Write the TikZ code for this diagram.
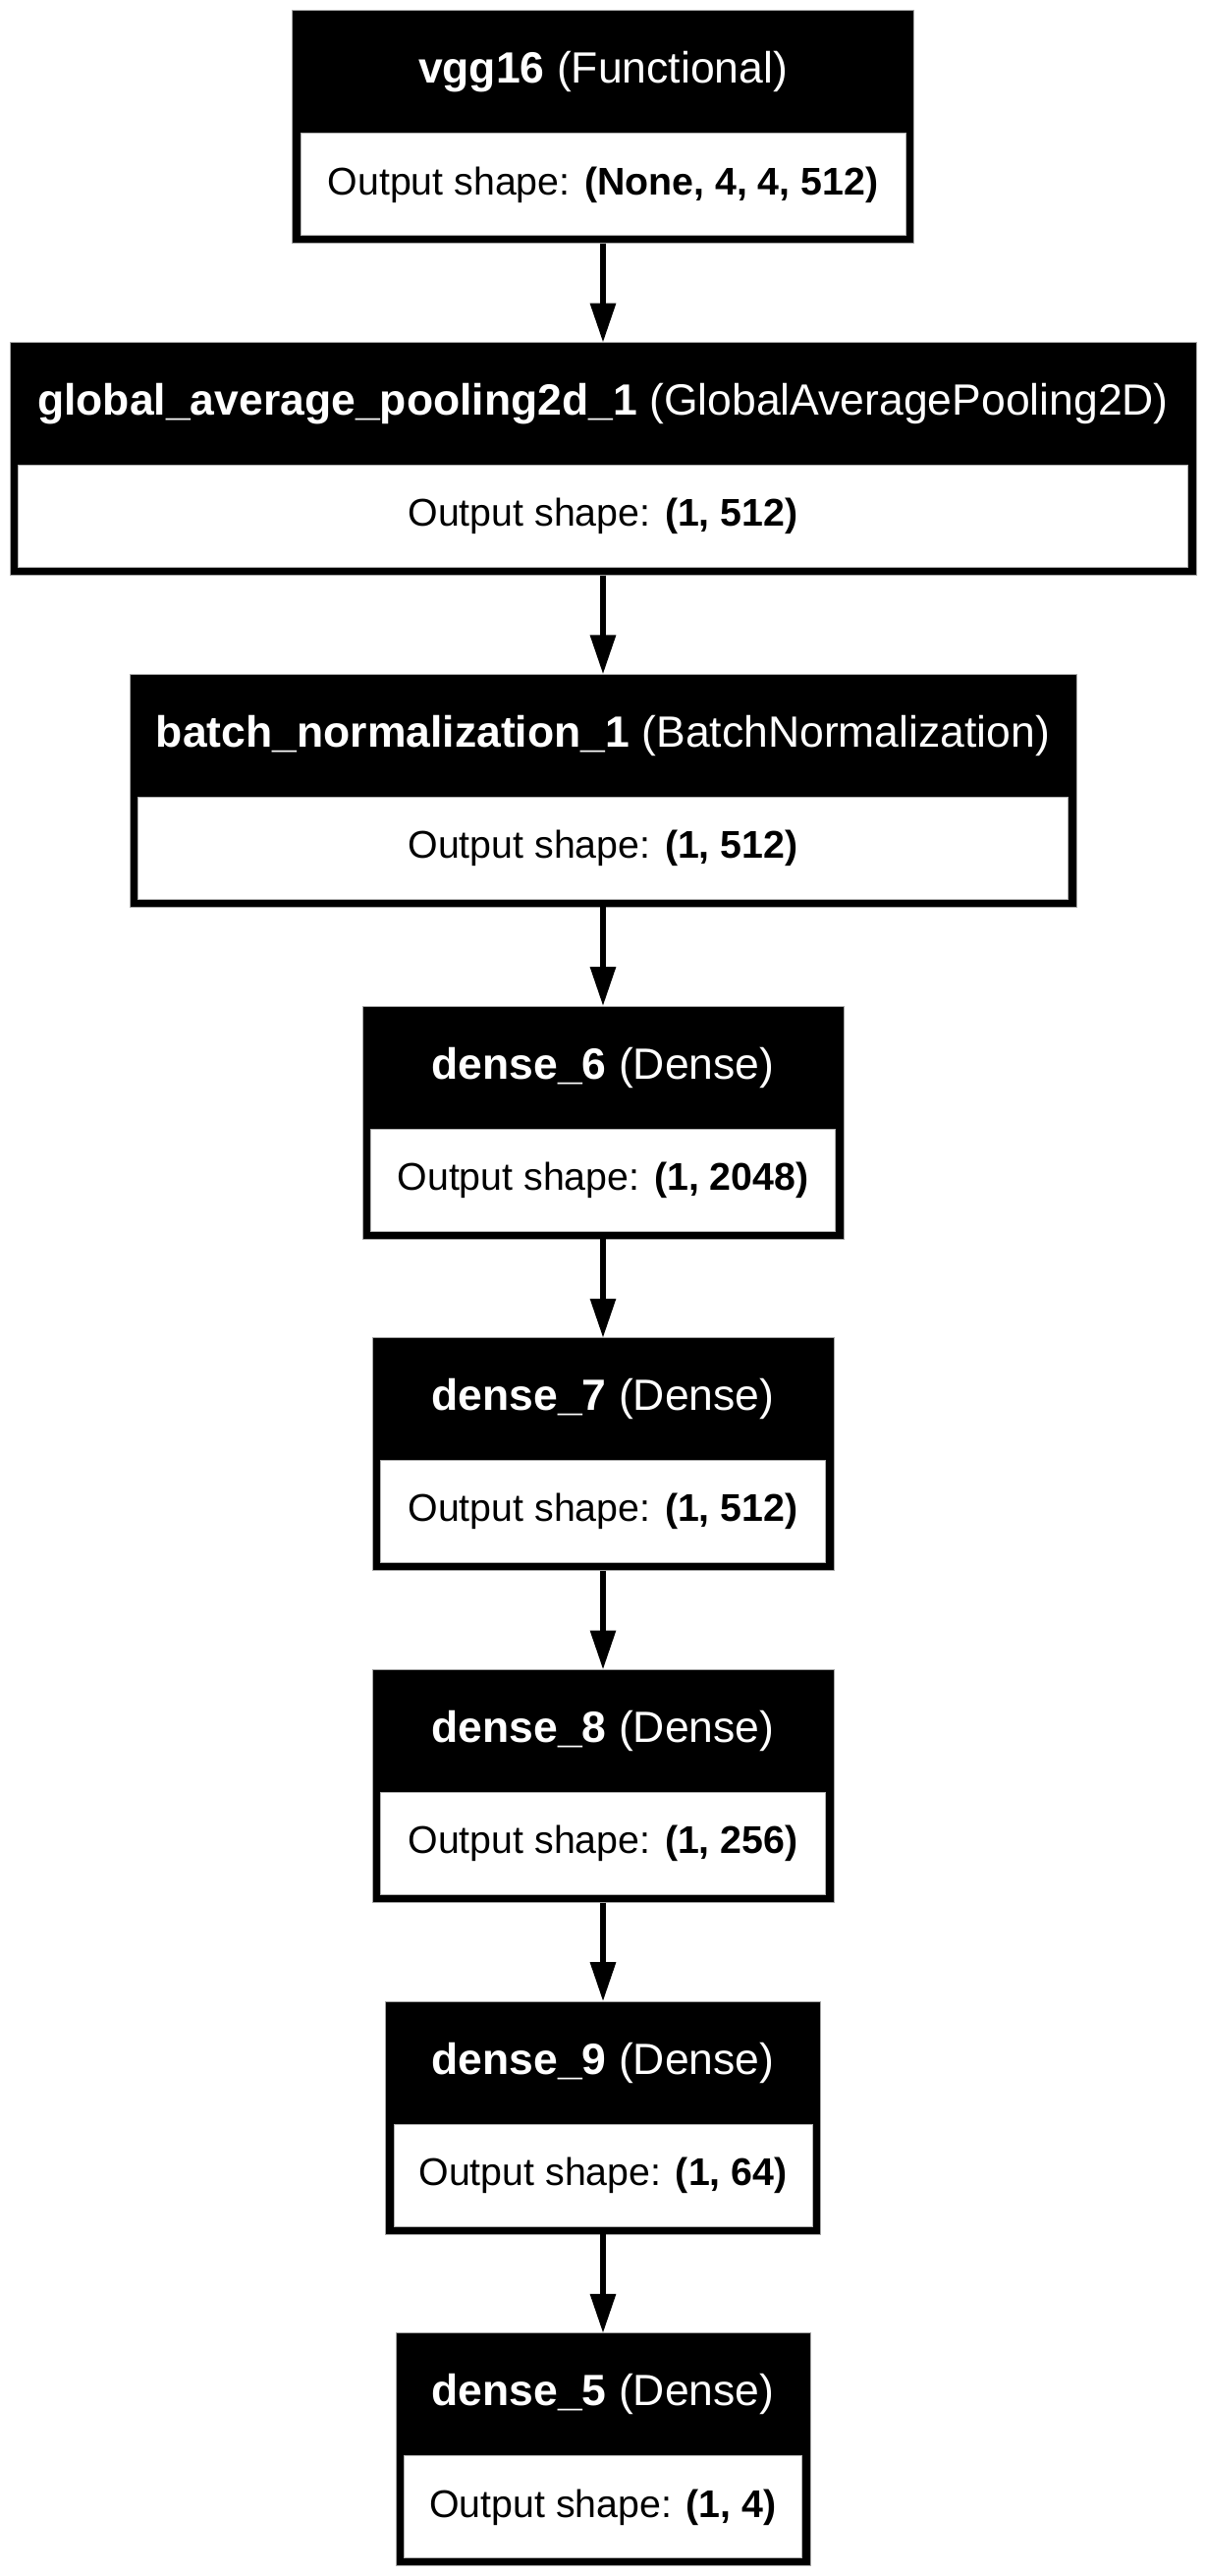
\documentclass[tikz,border=0pt]{standalone}
\usepackage{fontspec}
\setmainfont{Liberation Sans}
\usetikzlibrary{arrows.meta}
\newcommand\layerheadfont{\fontsize{44.5}{53}\selectfont}
\newcommand\layerbodyfont{\fontsize{39.3}{47}\selectfont}
\tikzset{
  outerbox/.style={rectangle, fill=black, draw=gray!70, line width=1pt, inner sep=0pt, outer sep=0pt, minimum height=237pt},
  bodybox/.style={rectangle, fill=white, draw=gray!60, line width=1pt, inner sep=0pt, outer sep=0pt, minimum height=104pt},
  headtxt/.style={text=white, font=\layerheadfont, inner sep=0pt},
  bodytxt/.style={text=black, font=\layerbodyfont, inner sep=0pt},
  flow/.style={line width=6pt, -{Triangle[width=25pt,length=40pt]}}
}
\begin{document}
\begin{tikzpicture}[x=1pt, y=-1pt]
\useasboundingbox (0,0) rectangle (1228,2622);
% layer 1
\node[outerbox, minimum width=633pt] (L1) at (614,129.5) {};
\node[bodybox, minimum width=616pt] (B1) at (614,188) {};
\node[headtxt] (H1) at (614,73.5) {\textbf{vgg16} (Functional)};
\node[bodytxt] (T1) at (614,188) {Output shape: \textbf{(None, 4, 4, 512)}};
% layer 2
\node[outerbox, minimum width=1208pt] (L2) at (614,467.2) {};
\node[bodybox, minimum width=1191pt] (B2) at (614,525.7) {};
\node[headtxt] (H2) at (614,411.2) {\textbf{global\_average\_pooling2d\_1} (GlobalAveragePooling2D)};
\node[bodytxt] (T2) at (614,525.7) {Output shape: \textbf{(1, 512)}};
% layer 3
\node[outerbox, minimum width=964pt] (L3) at (614,804.9) {};
\node[bodybox, minimum width=947pt] (B3) at (614,863.4) {};
\node[headtxt] (H3) at (614,748.9) {\textbf{batch\_normalization\_1} (BatchNormalization)};
\node[bodytxt] (T3) at (614,863.4) {Output shape: \textbf{(1, 512)}};
% layer 4
\node[outerbox, minimum width=490pt] (L4) at (614,1142.6) {};
\node[bodybox, minimum width=473pt] (B4) at (614,1201.1) {};
\node[headtxt] (H4) at (614,1086.6) {\textbf{dense\_6} (Dense)};
\node[bodytxt] (T4) at (614,1201.1) {Output shape: \textbf{(1, 2048)}};
% layer 5
\node[outerbox, minimum width=470pt] (L5) at (614,1480.3) {};
\node[bodybox, minimum width=453pt] (B5) at (614,1538.8) {};
\node[headtxt] (H5) at (614,1424.3) {\textbf{dense\_7} (Dense)};
\node[bodytxt] (T5) at (614,1538.8) {Output shape: \textbf{(1, 512)}};
% layer 6
\node[outerbox, minimum width=470pt] (L6) at (614,1818.0) {};
\node[bodybox, minimum width=453pt] (B6) at (614,1876.5) {};
\node[headtxt] (H6) at (614,1762.0) {\textbf{dense\_8} (Dense)};
\node[bodytxt] (T6) at (614,1876.5) {Output shape: \textbf{(1, 256)}};
% layer 7
\node[outerbox, minimum width=443pt] (L7) at (614,2155.7) {};
\node[bodybox, minimum width=426pt] (B7) at (614,2214.2) {};
\node[headtxt] (H7) at (614,2099.7) {\textbf{dense\_9} (Dense)};
\node[bodytxt] (T7) at (614,2214.2) {Output shape: \textbf{(1, 64)}};
% layer 8
\node[outerbox, minimum width=422pt] (L8) at (614,2493.4) {};
\node[bodybox, minimum width=405pt] (B8) at (614,2551.9) {};
\node[headtxt] (H8) at (614,2437.4) {\textbf{dense\_5} (Dense)};
\node[bodytxt] (T8) at (614,2551.9) {Output shape: \textbf{(1, 4)}};
% connectors
\draw[flow] (L1.south) -- (L2.north);
\draw[flow] (L2.south) -- (L3.north);
\draw[flow] (L3.south) -- (L4.north);
\draw[flow] (L4.south) -- (L5.north);
\draw[flow] (L5.south) -- (L6.north);
\draw[flow] (L6.south) -- (L7.north);
\draw[flow] (L7.south) -- (L8.north);
\end{tikzpicture}
\end{document}
